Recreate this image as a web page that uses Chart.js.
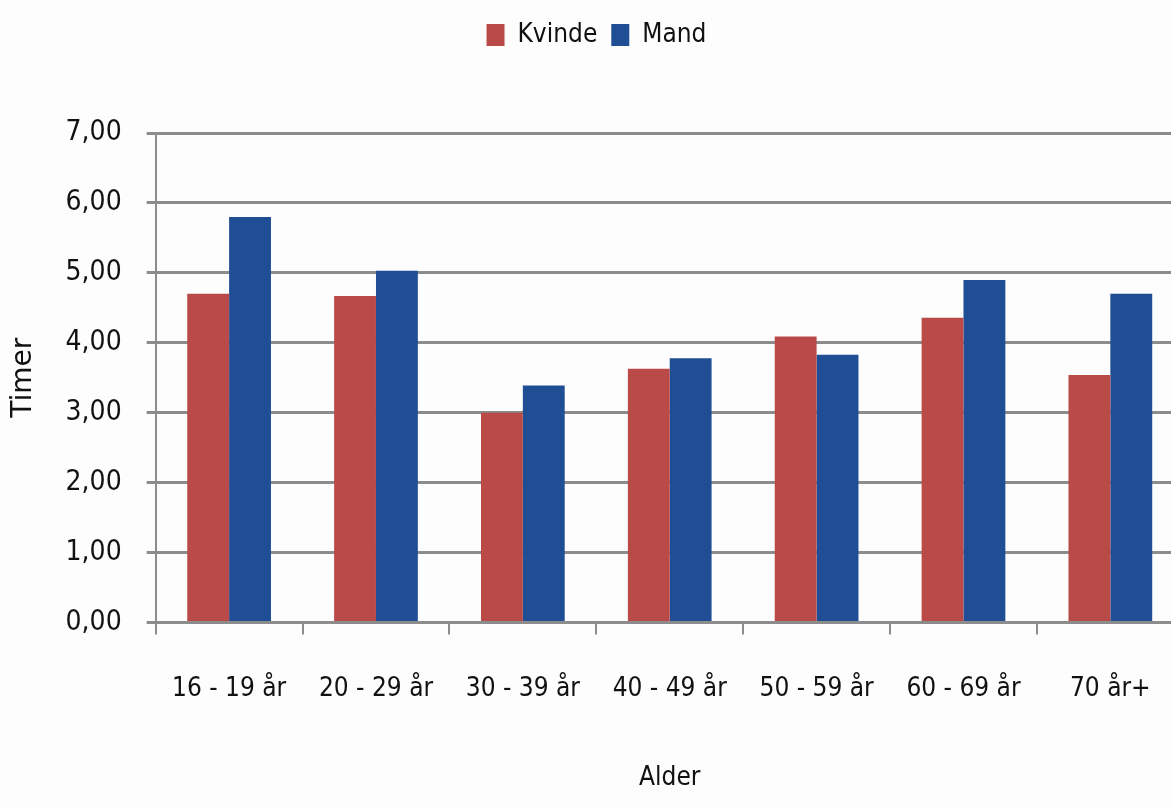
<!DOCTYPE html>
<html>
<head>
<meta charset="utf-8">
<script src="https://cdn.jsdelivr.net/npm/chart.js@4"></script>
<style>
  html, body { margin: 0; padding: 0; background: #fdfdfd; overflow: hidden; }
  #wrap { width: 1190px; height: 808px; }
</style>
</head>
<body>
<div id="wrap"><canvas id="myChart"></canvas></div>
<script>
const categories = ['16 - 19 år', '20 - 29 år', '30 - 39 år', '40 - 49 år', '50 - 59 år', '60 - 69 år', '70 år+'];
const kvinde = [4.70, 4.67, 3.00, 3.63, 4.09, 4.36, 3.54];
const mand = [5.80, 5.03, 3.39, 3.78, 3.83, 4.90, 4.70];
const yTicks = [0, 1, 2, 3, 4, 5, 6, 7];

const narrow = '"Liberation Sans Narrow", "DejaVu Sans Condensed", sans-serif';
const gridGray = '#8c8c8c';

Chart.defaults.font.family = narrow;
Chart.defaults.color = '#111';

// extra room under the legend
const legendSpace = {
  id: 'legendSpace',
  beforeInit(chart) {
    const fit = chart.legend.fit;
    chart.legend.fit = function() {
      fit.bind(chart.legend)();
      this.height += 75;
    };
  }
};

const ctx = document.getElementById('myChart');

new Chart(ctx, {
  type: 'bar',
  data: {
    labels: categories,
    datasets: [
      {
        label: 'Kvinde',
        data: kvinde,
        backgroundColor: '#BA4A47'
      },
      {
        label: 'Mand',
        data: mand,
        backgroundColor: '#1F4E94'
      }
    ]
  },
  plugins: [legendSpace],
  options: {
    responsive: true,
    maintainAspectRatio: false,
    animation: false,
    layout: {
      padding: { top: 8, right: 4, left: 7, bottom: 10 }
    },
    datasets: {
      bar: {
        barPercentage: 1,
        categoryPercentage: 0.57
      }
    },
    plugins: {
      legend: {
        position: 'top',
        labels: {
          boxWidth: 18,
          boxHeight: 22,
          padding: 14,
          font: { size: 26 },
          color: '#111'
        }
      },
      tooltip: { enabled: false }
    },
    scales: {
      x: {
        grid: {
          offset: true,
          drawOnChartArea: false,
          color: gridGray,
          lineWidth: 2,
          tickLength: 12
        },
        border: { color: gridGray, width: 3 },
        ticks: {
          padding: 39,
          font: { size: 26 },
          color: '#111'
        },
        title: {
          display: true,
          text: 'Alder',
          font: { size: 26 },
          color: '#111',
          padding: { top: 19 }
        }
      },
      y: {
        min: 0,
        max: 7,
        afterBuildTicks: (axis) => {
          axis.ticks = yTicks.map(v => ({ value: v }));
        },
        grid: {
          color: gridGray,
          lineWidth: 3,
          tickLength: 9
        },
        border: { color: gridGray, width: 2 },
        ticks: {
          padding: 25,
          font: { size: 28 },
          color: '#111',
          callback: (value) => value.toFixed(2).replace('.', ',')
        },
        title: {
          display: true,
          text: 'Timer',
          font: { family: '"DejaVu Sans", sans-serif', size: 28 },
          color: '#111',
          padding: { top: 0, bottom: 0 }
        }
      }
    }
  }
});
</script>
</body>
</html>
